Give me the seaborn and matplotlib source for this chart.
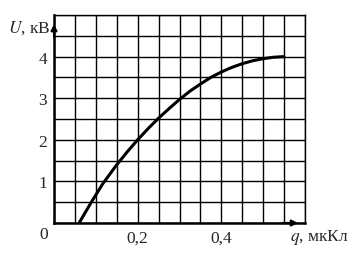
import numpy as np
import pandas as pd
import matplotlib
matplotlib.use("Agg")
import matplotlib.pyplot as plt
import seaborn as sns

# data
q_vals = [0.060, 0.088, 0.117, 0.150, 0.175, 0.200, 0.225, 0.250, 0.275, 0.300,
          0.325, 0.350, 0.375, 0.400, 0.425, 0.450, 0.475, 0.500, 0.525, 0.550]
u_vals = [0.00, 0.48, 0.95, 1.40, 1.71, 2.00, 2.27, 2.52, 2.75, 2.97,
          3.17, 3.34, 3.50, 3.63, 3.74, 3.83, 3.90, 3.95, 3.985, 4.00]
x_ticks = [0.2, 0.4]
x_tick_labels = ["0,2", "0,4"]
y_ticks = [1, 2, 3, 4]
y_tick_labels = ["1", "2", "3", "4"]

sns.set_style("white")
plt.rcParams['font.family'] = ['Liberation Serif', 'DejaVu Serif']
plt.rcParams['mathtext.fontset'] = 'stix'

fig = plt.figure(figsize=(3.58, 2.55), dpi=100)
ax = fig.add_axes([54/358, 31/255, 251/358, 208/255])

df = pd.DataFrame({"q": q_vals, "U": u_vals})
sns.lineplot(data=df, x="q", y="U", ax=ax, color="black", linewidth=2.2, sort=False)

ax.set_xlim(0, 0.6)
ax.set_ylim(0, 5)
ax.set_xticks(np.arange(0, 0.601, 0.05), minor=True)
ax.set_yticks(np.arange(0, 5.01, 0.5), minor=True)
ax.set_xticks(x_ticks)
ax.set_xticklabels(x_tick_labels)
ax.set_yticks(y_ticks)
ax.set_yticklabels(y_tick_labels)
ax.grid(True, which="both", color="black", linewidth=1.0)
ax.tick_params(axis="both", which="minor", length=0)
ax.tick_params(axis="both", which="major", length=3, width=1.2, color="black",
               labelsize=12.5, pad=2, direction="out")
ax.set_xlabel("")
ax.set_ylabel("")

for s in ["top", "right"]:
    ax.spines[s].set_linewidth(1.0)
    ax.spines[s].set_color("black")
for s in ["left", "bottom"]:
    ax.spines[s].set_linewidth(1.8)
    ax.spines[s].set_color("black")

ax.annotate("", xy=(0.59, 0), xytext=(0.54, 0), xycoords="data",
            arrowprops=dict(arrowstyle="-|>", color="black", lw=1.5, mutation_scale=9),
            annotation_clip=False)
ax.annotate("", xy=(0, 4.85), xytext=(0, 4.4), xycoords="data",
            arrowprops=dict(arrowstyle="-|>", color="black", lw=1.5, mutation_scale=9),
            annotation_clip=False)

fig.text(44/358, 1 - 235/255, "0", fontsize=12.5, ha="center", va="center")
fig.text(50/358, 1 - 28/255, r"$U$, кВ", fontsize=12.5, ha="right", va="center")
fig.text(290/358, 1 - 238/255, r"$q$, мкКл", fontsize=12.5, ha="left", va="center")

fig.savefig("out.png", dpi=100)
